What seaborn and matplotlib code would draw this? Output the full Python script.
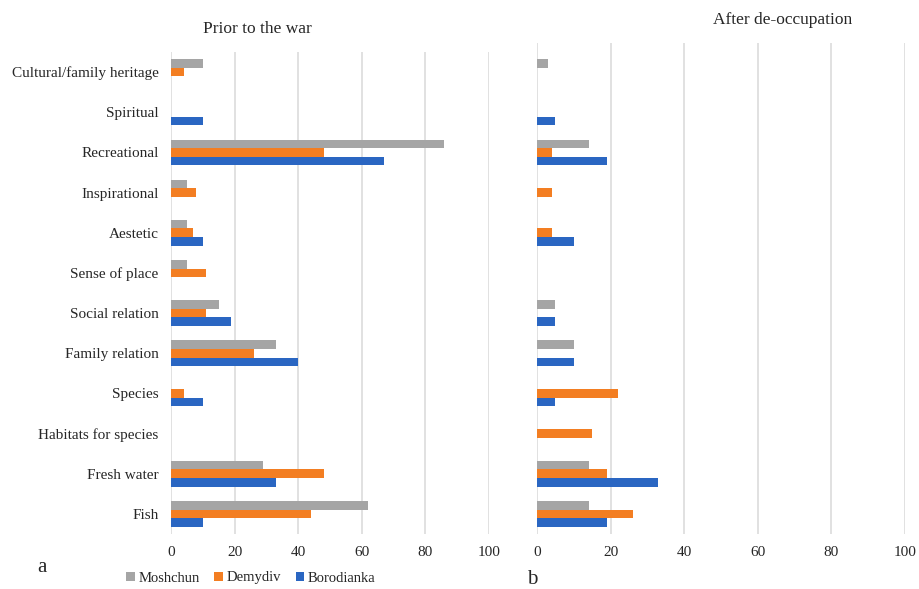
import matplotlib
matplotlib.use("Agg")
import matplotlib.pyplot as plt
import seaborn as sns
import pandas as pd
from matplotlib.patches import Patch

categories = [
    "Cultural/family heritage", "Spiritual", "Recreational", "Inspirational",
    "Aestetic", "Sense of place", "Social relation", "Family relation",
    "Species", "Habitats for species", "Fresh water", "Fish",
]
sites = ["Moshchun", "Demydiv", "Borodianka"]

# Share of respondents (%) before the war
prior_moshchun = [10, 0, 86, 5, 5, 5, 15, 33, 0, 0, 29, 62]
prior_demydiv = [4, 0, 48, 8, 7, 11, 11, 26, 4, 0, 48, 44]
prior_borodianka = [0, 10, 67, 0, 10, 0, 19, 40, 10, 0, 33, 10]

# Share of respondents (%) after de-occupation
after_moshchun = [3, 0, 14, 0, 0, 0, 5, 10, 0, 0, 14, 14]
after_demydiv = [0, 0, 4, 4, 4, 0, 0, 0, 22, 15, 19, 26]
after_borodianka = [0, 5, 19, 0, 10, 0, 5, 10, 5, 0, 33, 19]

x_ticks = [0, 20, 40, 60, 80, 100]
colors = ["#A5A5A5", "#F37E22", "#2A66C2"]


def long_frame(a, b, c):
    rows = []
    for site, vals in zip(sites, (a, b, c)):
        for cat, v in zip(categories, vals):
            rows.append({"category": cat, "site": site, "value": v})
    return pd.DataFrame(rows)


prior_df = long_frame(prior_moshchun, prior_demydiv, prior_borodianka)
after_df = long_frame(after_moshchun, after_demydiv, after_borodianka)

sns.set_theme(style="white")
plt.rcParams["font.family"] = ["Liberation Serif", "DejaVu Serif"]

W, H = 919, 589
fig = plt.figure(figsize=(W / 100, H / 100), dpi=100)


def px_axes(x0, x1, y0, y1):
    return fig.add_axes([x0 / W, 1 - y1 / H, (x1 - x0) / W, (y1 - y0) / H])


ax1 = px_axes(171, 489, 52, 534)
ax2 = px_axes(537, 905, 43, 534)

for ax, df in ((ax1, prior_df), (ax2, after_df)):
    sns.barplot(data=df, y="category", x="value", hue="site", order=categories,
                hue_order=sites, palette=colors, saturation=1, orient="h",
                width=0.64, linewidth=0, ax=ax, legend=False, errorbar=None)
    ax.set_xlim(0, 100)
    ax.set_xticks(x_ticks)
    ax.set_xticklabels([str(t) for t in x_ticks], fontsize=11)
    ax.tick_params(axis="x", length=0, pad=9)
    ax.grid(axis="x", color="#D9D9D9", linewidth=1.1)
    ax.set_axisbelow(True)
    for s in ax.spines.values():
        s.set_visible(False)
    ax.set_xlabel("")
    ax.set_ylabel("")

ax1.set_ylim(11.5, -0.5)
row_px = (534 - 52) / 12
ax2.set_ylim(11.5, -0.5 - 9 / row_px)

ax1.set_yticks(range(len(categories)))
ax1.set_yticklabels(categories, fontsize=11)
ax1.tick_params(axis="y", length=0, pad=9)
ax2.set_yticks([])

fig.text(257 / W, 1 - 29 / H, "Prior to the war", ha="center", va="center", fontsize=12.5)
fig.text(783 / W, 1 - 20 / H, "After de-occupation", ha="center", va="center", fontsize=12.5)
fig.text(42 / W, 1 - 568 / H, "a", ha="center", va="center", fontsize=15)
fig.text(532 / W, 1 - 579 / H, "b", ha="center", va="center", fontsize=15)

handles = [Patch(facecolor=c, edgecolor="none") for c in colors]
fig.legend(handles, sites, loc="center left", bbox_to_anchor=(126 / W, 1 - 578 / H),
           ncol=3, frameon=False, fontsize=10.5, handlelength=0.6, handleheight=0.6,
           handletextpad=0.25, columnspacing=1.0, borderaxespad=0, borderpad=0)

fig.savefig("out.png", dpi=100)
